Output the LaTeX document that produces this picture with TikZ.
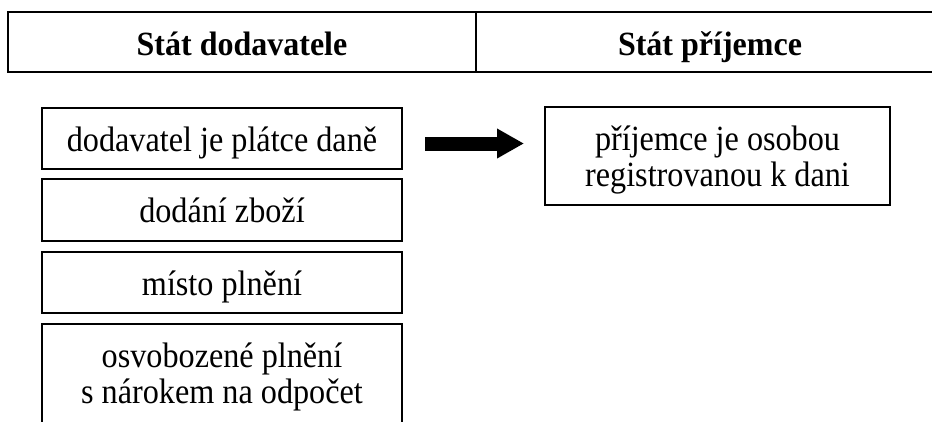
\documentclass[tikz,border=0pt]{standalone}
\usepackage{fontspec}
\setmainfont{Liberation Serif}
\usetikzlibrary{arrows.meta}

% slightly taller letter shapes for the cell texts
\newcommand\tallbody[1]{\scalebox{1}[1.1]{#1}}
\newcommand\tallhead[1]{\scalebox{1}[1.06]{#1}}

\tikzset{
  headcell/.style={draw, line width=2pt, rectangle, anchor=north west,
    outer sep=0pt, inner sep=0pt},
  cell/.style={draw, line width=1.6pt, rectangle, anchor=north west,
    outer sep=0pt, inner sep=0pt},
  headtext/.style={anchor=base, inner sep=0pt,
    font=\fontsize{32}{38}\selectfont\bfseries},
  bodytext/.style={anchor=base, inner sep=0pt,
    font=\fontsize{32.2}{36}\selectfont},
  blockarrow/.style={line width=14pt,
    -{Triangle[length=27pt,width=28pt]}}
}

\begin{document}
\begin{tikzpicture}[x=1pt,y=-1pt]
  \useasboundingbox (0,0) rectangle (932,421);

  % header table
  \node[headcell, minimum width=468pt, minimum height=60pt] (hl) at (8,12) {};
  \node[headcell, minimum width=480pt, minimum height=60pt] (hr) at (476,12) {};
  \node[headtext] (hlt) at ([yshift=-13pt]hl.center) {\tallhead{Stát dodavatele}};
  \node[headtext] (hrt) at ([xshift=-6pt,yshift=-13pt]hr.center) {\tallhead{Stát příjemce}};

  % supplier side
  \node[cell, minimum width=360pt, minimum height=61pt] (b1) at (42,108) {};
  \node[cell, minimum width=360pt, minimum height=62pt] (b2) at (42,179) {};
  \node[cell, minimum width=360pt, minimum height=61pt] (b3) at (42,252) {};
  \node[cell, minimum width=360pt, minimum height=120pt] (b4) at (42,324) {};

  \node[bodytext] (t1) at ([yshift=-43pt]b1.north) {\tallbody{dodavatel je plátce daně}};
  \node[bodytext] (t2) at ([yshift=-43pt]b2.north) {\tallbody{dodání zboží}};
  \node[bodytext] (t3) at ([yshift=-43pt]b3.north) {\tallbody{místo plnění}};
  \node[bodytext] (t4a) at ([yshift=-43pt]b4.north) {\tallbody{osvobozené plnění}};
  \node[bodytext] (t4b) at ([yshift=-79pt]b4.north) {\tallbody{s nárokem na odpočet}};

  % recipient side
  \node[cell, minimum width=345pt, minimum height=98pt] (r1) at (545,107) {};
  \node[bodytext] (r1a) at ([yshift=-43pt]r1.north) {\tallbody{příjemce je osobou}};
  \node[bodytext] (r1b) at ([yshift=-79pt]r1.north) {\tallbody{registrovanou k dani}};

  % transfer arrow
  \coordinate (a0) at ([xshift=23pt,yshift=-5pt]b1.east);
  \coordinate (a1) at (a0 -| r1.west);
  \draw[blockarrow] (a0) -- ([xshift=-21pt]a1);
\end{tikzpicture}
\end{document}
